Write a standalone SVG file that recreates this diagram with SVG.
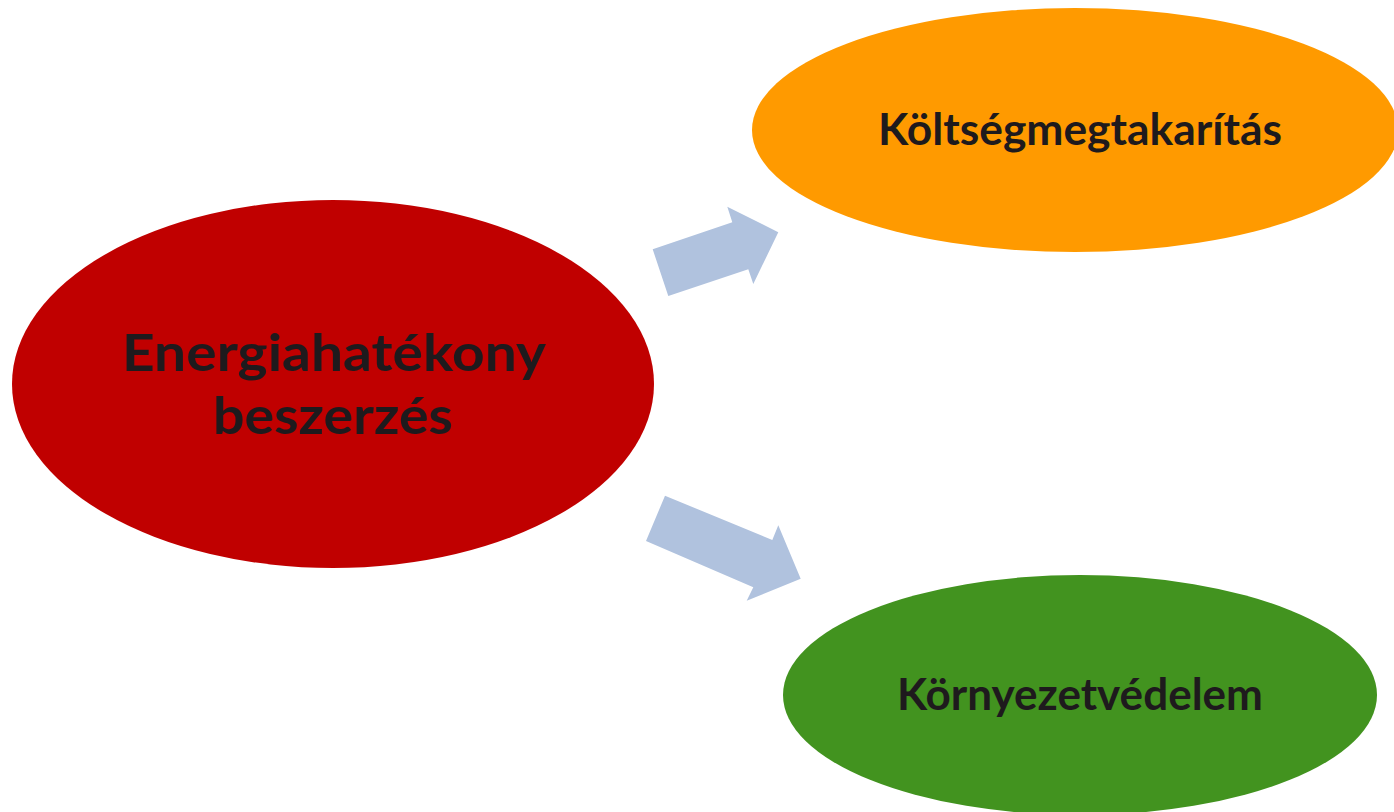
<svg xmlns="http://www.w3.org/2000/svg" width="1394" height="812" viewBox="0 0 1394 812">
<style>
.lbl{font-family:Lato,"Open Sans","Liberation Sans",sans-serif;font-weight:700;fill:#1e1a1d;text-anchor:middle}
.arrow{fill:#b0c2de}
</style>
<rect width="1394" height="812" fill="#ffffff"/>
<g id="connectors">
<polygon class="arrow" points="652.7,249.3 732.3,222.3 727.3,206.7 778.3,232.3 753.3,284 748.3,269.3 668.3,296"/>
<polygon class="arrow" points="665,495.7 772.3,540 778.3,525.3 800.7,578.7 746.7,600.7 753.3,587.3 646,541"/>
</g>
<g id="node-energia">
<ellipse cx="333" cy="384" rx="321" ry="184" fill="#c00000"/>
<text class="lbl" font-size="51"><tspan x="334" y="371" textLength="424" lengthAdjust="spacingAndGlyphs">Energiahatékony</tspan><tspan x="333" y="434" textLength="240" lengthAdjust="spacingAndGlyphs">beszerzés</tspan></text>
</g>
<g id="node-koltseg">
<ellipse cx="1075" cy="130" rx="323" ry="122" fill="#ff9a00"/>
<text class="lbl" x="1080" y="145" font-size="44" textLength="404" lengthAdjust="spacingAndGlyphs">Költségmegtakarítás</text>
</g>
<g id="node-kornyezet">
<ellipse cx="1080" cy="695" rx="297" ry="120" fill="#42931f"/>
<text class="lbl" x="1080" y="710" font-size="44" textLength="366" lengthAdjust="spacingAndGlyphs">Környezetvédelem</text>
</g>
</svg>
